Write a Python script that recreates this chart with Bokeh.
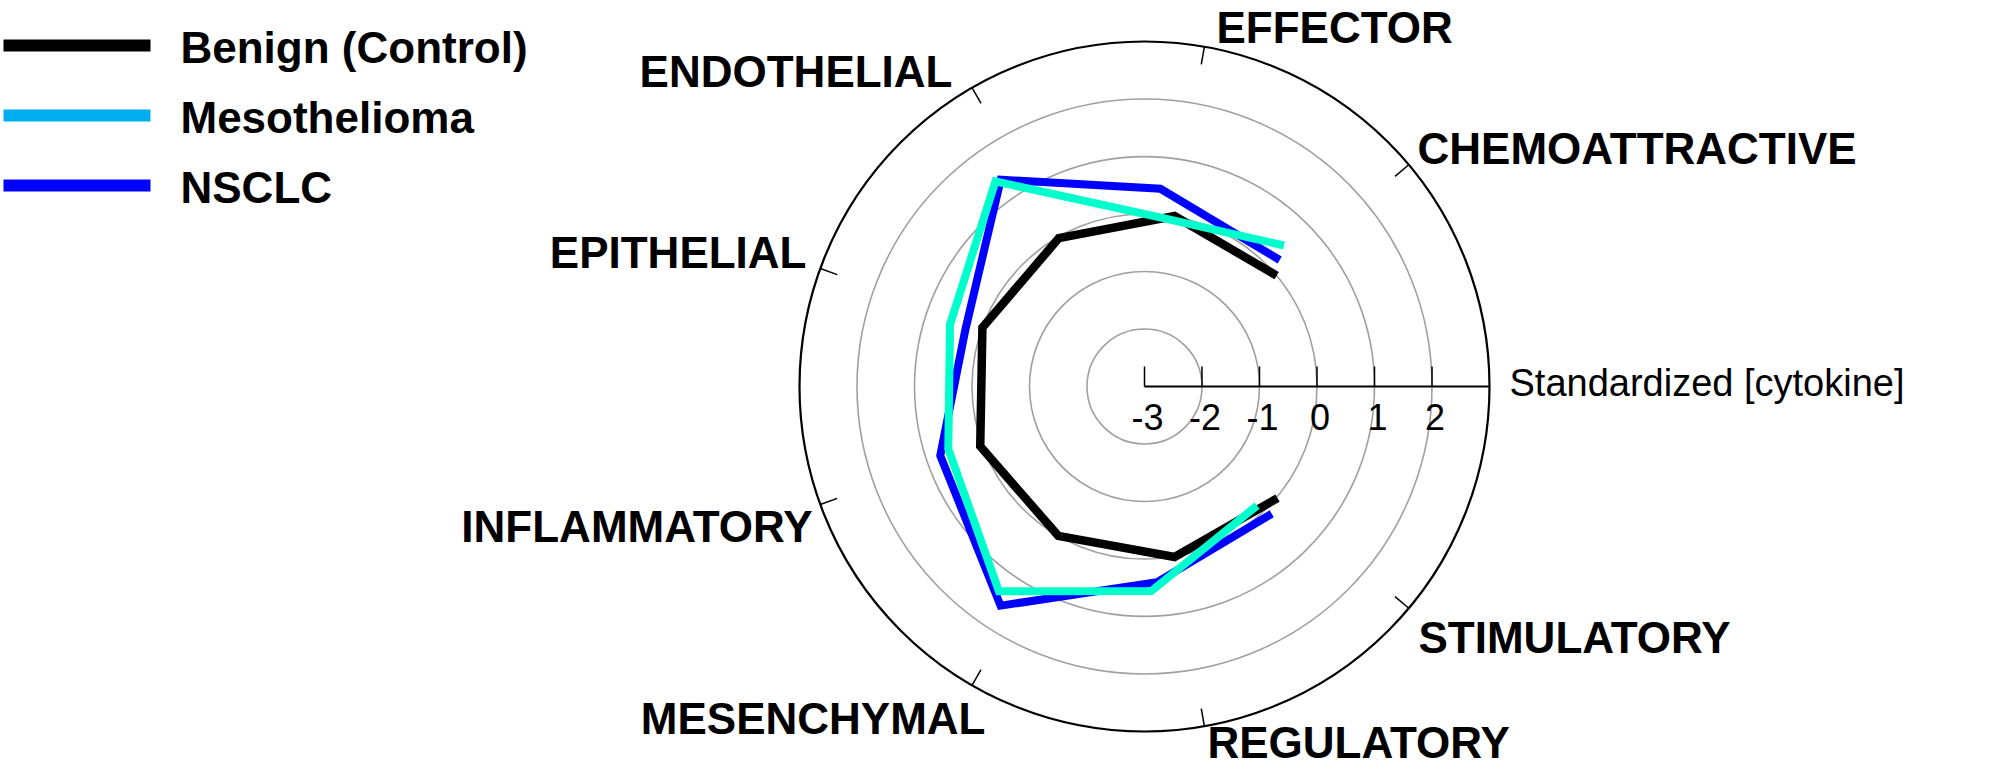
import numpy as np
from bokeh.plotting import figure
from bokeh.models import Range1d
from bokeh.core.properties import value
from bokeh.embed import file_html
from bokeh.resources import INLINE

# categories in the order the lines are drawn (clockwise angle from north, degrees)
categories = ["CHEMOATTRACTIVE", "EFFECTOR", "ENDOTHELIAL", "EPITHELIAL",
              "INFLAMMATORY", "MESENCHYMAL", "REGULATORY", "STIMULATORY"]
category_angle = [50, 10, 330, 290, 250, 210, 170, 130]

# standardized cytokine values per series
benign = [0.00, 0.01, -0.02, 0.00, 0.04, 0.00, 0.01, 0.02]
meso = [0.45, -0.05, 1.41, 0.55, 0.58, 1.37, 0.56, -0.15]
nsclc = [0.22, 0.45, 1.38, 0.27, 0.75, 1.56, 0.41, 0.13]

# angles at which the disease series were plotted
meso_angle = [44.7, 6, 324, 287.7, 252.4, 215.4, 178.1, 136.6]
nsclc_angle = [46.9, 4.6, 325.2, 287.9, 251.3, 213.3, 176.3, 135]

series_names = ["Benign (Control)", "Mesothelioma", "NSCLC"]
legend_colors = ["black", "#00AEEF", "#0000FF"]

tick_values = [-3, -2, -1, 0, 1, 2]
grid_values = [-2, -1, 0, 1, 2]
r_min, r_max = -3, 3

# layout: picture pixels -> data units
CX, CY, U = 1144, 386, 57.5
W, H = 1984, 767


def px(X, Y):
    return (X - CX) / U, (CY - Y) / U


def polar(vals, angs):
    r = np.array(vals) - r_min
    a = np.radians(angs)
    return r * np.sin(a), r * np.cos(a)


p = figure(width=W, height=H, output_backend="svg", toolbar_location=None,
           x_range=Range1d((0 - CX) / U, (W - CX) / U),
           y_range=Range1d((CY - H) / U, CY / U),
           x_axis_type=None, y_axis_type=None, min_border=0)
p.grid.visible = False
p.outline_line_color = None
p.background_fill_color = "white"
p.border_fill_color = "white"

# grid circles and outer circle
p.circle(x=[0] * len(grid_values), y=[0] * len(grid_values),
         radius=[g - r_min for g in grid_values],
         fill_color=None, line_color="#A0A0A0", line_width=1.6)
p.circle(x=[0], y=[0], radius=[r_max - r_min], fill_color=None,
         line_color="black", line_width=2.2)

# small ticks on the outer circle at each category
ca = np.radians(category_angle)
R = r_max - r_min
tl = 18 / U
p.segment(x0=R * np.sin(ca), y0=R * np.cos(ca),
          x1=(R - tl) * np.sin(ca), y1=(R - tl) * np.cos(ca),
          line_color="black", line_width=1.5)

# radial axis
p.segment(x0=[0], y0=[0], x1=[R], y1=[0], line_color="black", line_width=2)
tx = [t - r_min for t in tick_values]
p.segment(x0=tx, y0=[0] * len(tx), x1=tx, y1=[20 / U] * len(tx),
          line_color="black", line_width=1.5)
p.text(x=[t + 3 / U for t in tx], y=[(CY - 416) / U] * len(tx),
       text=[str(t) for t in tick_values], text_align="center",
       text_baseline="middle", text_font=value("Liberation Sans"),
       text_font_size="36px", text_color="black")
ax, ay = px(1509, 382)
p.text(x=[ax], y=[ay], text=["Standardized [cytokine]"], text_align="left",
       text_baseline="middle", text_font=value("Liberation Sans"),
       text_font_size="38px", text_color="black")

# data lines
bx, by = polar(benign, category_angle)
p.line(bx, by, line_color="black", line_width=8.5, line_join="miter")
nx, ny = polar(nsclc, nsclc_angle)
p.line(nx, ny, line_color="#0000FF", line_width=8, line_join="miter")
mx, my = polar(meso, meso_angle)
p.line(mx, my, line_color="#00FFCC", line_width=8, line_join="miter")

# category labels
label_pos = {
    "EFFECTOR": (1216, 27, "left"),
    "CHEMOATTRACTIVE": (1417, 148, "left"),
    "STIMULATORY": (1418, 637, "left"),
    "REGULATORY": (1207, 742, "left"),
    "MESENCHYMAL": (985, 718, "right"),
    "INFLAMMATORY": (812, 526, "right"),
    "EPITHELIAL": (806, 252, "right"),
    "ENDOTHELIAL": (952, 71, "right"),
}
for name in categories:
    X, Y, al = label_pos[name]
    lx, ly = px(X, Y)
    p.text(x=[lx], y=[ly], text=[name], text_align=al, text_baseline="middle",
           text_font=value("Liberation Sans"), text_font_style="bold",
           text_font_size="44px", text_color="black")

# legend
for i, (name, col) in enumerate(zip(series_names, legend_colors)):
    Y = 45 + 70 * i
    x0, y0 = px(3, Y)
    x1, _ = px(150, Y)
    p.segment(x0=[x0], y0=[y0], x1=[x1], y1=[y0], line_color=col, line_width=12)
    tx0, ty0 = px(180, Y + 2)
    p.text(x=[tx0], y=[ty0], text=[name], text_align="left", text_baseline="middle",
           text_font=value("Liberation Sans"), text_font_style="bold",
           text_font_size="44px", text_color="black")

open("out.html", "w").write(file_html(p, INLINE))
